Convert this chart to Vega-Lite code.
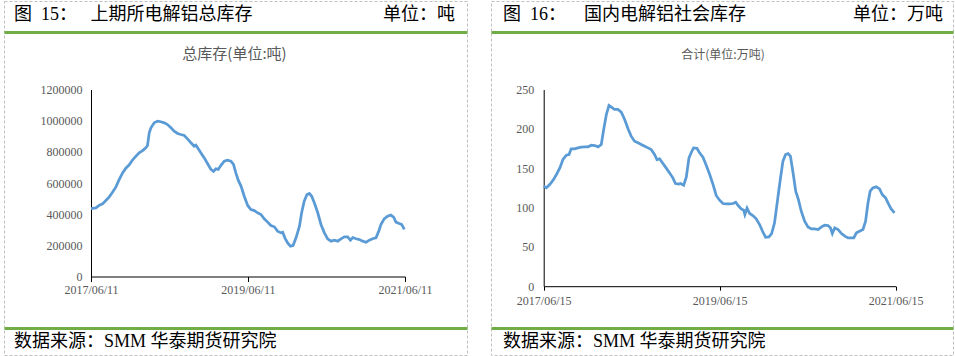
{
  "$schema": "https://vega.github.io/schema/vega-lite/v6.json",
  "padding": {"left": 3, "top": 0, "right": 0, "bottom": 0},
  "background": "white",
  "spacing": 22,
  "config": {"view": {"stroke": null}, "font": "Liberation Serif"},
  "hconcat": [
    {
      "spacing": -2,
      "vconcat": [
        {
          "width": 463, "height": 30.5,
          "view": {"stroke": "#BFBFBF", "strokeDash": [3, 2], "strokeWidth": 1},
          "data": {"values": [
            {"side": "left", "label": "图\u00a0\u00a015：\u00a0\u00a0\u00a0上期所电解铝总库存"},
            {"side": "right", "label": "单位：吨"}
          ]},
          "encoding": {
            "x": {"field": "side", "type": "nominal",
              "scale": {"type": "point", "domain": ["left", "right"], "padding": 0}, "axis": null},
            "text": {"field": "label", "type": "nominal"}
          },
          "layer": [
            {"transform": [{"filter": "datum.side === 'left'"}],
             "mark": {"type": "text", "align": "left", "baseline": "middle", "dx": 10, "dy": -1, "fontSize": 18, "font": "Liberation Serif, Noto Sans CJK SC", "color": "#000000"}},
            {"transform": [{"filter": "datum.side === 'right'"}],
             "mark": {"type": "text", "align": "right", "baseline": "middle", "dx": -12, "dy": -1, "fontSize": 18, "font": "Liberation Serif, Noto Sans CJK SC", "color": "#000000"}}
          ]
        },
        {
          "width": 463, "height": 295,
          "view": {"stroke": "#BFBFBF", "strokeDash": [3, 2], "strokeWidth": 1},
          "title": {"text": "总库存(单位:吨)", "font": "Noto Sans CJK SC", "fontSize": 15, "fontWeight": "normal", "color": "#595959", "offset": -36.5, "baseline": "middle", "dx": -1, "anchor": "middle"},
          "resolve": {"scale": {"x": "independent"}, "axis": {"x": "independent"}},
          "layer": [
            {
              "data": {"values": [
                {"date": "2017-06-11", "v": 436000}, {"date": "2017-07-04", "v": 440000}, {"date": "2017-07-20", "v": 458000},
                {"date": "2017-08-04", "v": 466000}, {"date": "2017-08-19", "v": 488000}, {"date": "2017-09-04", "v": 511000},
                {"date": "2017-09-19", "v": 541000}, {"date": "2017-10-05", "v": 575000}, {"date": "2017-10-20", "v": 622000},
                {"date": "2017-11-05", "v": 665000}, {"date": "2017-11-20", "v": 695000}, {"date": "2017-12-06", "v": 717000},
                {"date": "2017-12-21", "v": 747000}, {"date": "2018-01-06", "v": 772000}, {"date": "2018-01-21", "v": 794000},
                {"date": "2018-02-06", "v": 808000}, {"date": "2018-02-21", "v": 826000}, {"date": "2018-03-01", "v": 841000},
                {"date": "2018-03-09", "v": 922000}, {"date": "2018-03-17", "v": 954000}, {"date": "2018-04-01", "v": 986000},
                {"date": "2018-04-17", "v": 997000}, {"date": "2018-05-02", "v": 993000}, {"date": "2018-05-18", "v": 986000},
                {"date": "2018-06-02", "v": 975000}, {"date": "2018-06-18", "v": 954000}, {"date": "2018-07-03", "v": 933000},
                {"date": "2018-07-19", "v": 918000}, {"date": "2018-08-03", "v": 911000}, {"date": "2018-08-19", "v": 905000},
                {"date": "2018-09-03", "v": 883000}, {"date": "2018-09-19", "v": 858000}, {"date": "2018-10-04", "v": 836000},
                {"date": "2018-10-12", "v": 843000}, {"date": "2018-10-20", "v": 826000}, {"date": "2018-11-04", "v": 794000},
                {"date": "2018-11-20", "v": 761000}, {"date": "2018-12-05", "v": 725000}, {"date": "2018-12-21", "v": 687000},
                {"date": "2019-01-02", "v": 674000}, {"date": "2019-01-13", "v": 691000}, {"date": "2019-01-24", "v": 687000},
                {"date": "2019-02-05", "v": 712000}, {"date": "2019-02-21", "v": 740000}, {"date": "2019-03-08", "v": 747000},
                {"date": "2019-03-24", "v": 740000}, {"date": "2019-04-05", "v": 719000}, {"date": "2019-04-16", "v": 665000},
                {"date": "2019-04-27", "v": 618000}, {"date": "2019-05-10", "v": 580000}, {"date": "2019-05-25", "v": 515000},
                {"date": "2019-06-10", "v": 456000}, {"date": "2019-06-25", "v": 430000}, {"date": "2019-07-11", "v": 423000},
                {"date": "2019-07-26", "v": 409000}, {"date": "2019-08-11", "v": 398000}, {"date": "2019-08-26", "v": 370000},
                {"date": "2019-09-11", "v": 349000}, {"date": "2019-09-26", "v": 327000}, {"date": "2019-10-12", "v": 319000},
                {"date": "2019-10-27", "v": 291000}, {"date": "2019-11-12", "v": 280000}, {"date": "2019-11-20", "v": 284000},
                {"date": "2019-11-30", "v": 248000}, {"date": "2019-12-13", "v": 216000}, {"date": "2019-12-26", "v": 195000},
                {"date": "2020-01-07", "v": 199000}, {"date": "2020-01-21", "v": 248000}, {"date": "2020-02-06", "v": 323000},
                {"date": "2020-02-16", "v": 409000}, {"date": "2020-02-28", "v": 483000}, {"date": "2020-03-12", "v": 526000},
                {"date": "2020-03-23", "v": 533000}, {"date": "2020-04-03", "v": 515000}, {"date": "2020-04-15", "v": 473000},
                {"date": "2020-05-01", "v": 409000}, {"date": "2020-05-16", "v": 334000}, {"date": "2020-06-01", "v": 280000},
                {"date": "2020-06-16", "v": 242000}, {"date": "2020-07-02", "v": 227000}, {"date": "2020-07-17", "v": 233000},
                {"date": "2020-08-02", "v": 227000}, {"date": "2020-08-17", "v": 242000}, {"date": "2020-09-02", "v": 255000},
                {"date": "2020-09-17", "v": 255000}, {"date": "2020-09-30", "v": 233000}, {"date": "2020-10-11", "v": 250000},
                {"date": "2020-10-26", "v": 242000}, {"date": "2020-11-11", "v": 237000}, {"date": "2020-11-26", "v": 227000},
                {"date": "2020-12-12", "v": 220000}, {"date": "2020-12-27", "v": 233000}, {"date": "2021-01-11", "v": 242000},
                {"date": "2021-01-27", "v": 248000}, {"date": "2021-02-09", "v": 291000}, {"date": "2021-02-19", "v": 334000},
                {"date": "2021-03-06", "v": 370000}, {"date": "2021-03-22", "v": 387000}, {"date": "2021-04-06", "v": 394000},
                {"date": "2021-04-19", "v": 381000}, {"date": "2021-04-30", "v": 349000}, {"date": "2021-05-15", "v": 340000},
                {"date": "2021-05-26", "v": 334000}, {"date": "2021-06-08", "v": 302000}
              ]},
              "mark": {"type": "line", "color": "#5B9BD5", "strokeWidth": 2.75},
              "encoding": {
                "x": {"field": "date", "type": "temporal",
                  "scale": {"type": "utc", "nice": false, "range": [87, 401], "domain": [{"year": 2017, "month": 6, "date": 11, "utc": true}, {"year": 2021, "month": 6, "date": 11, "utc": true}]},
                  "axis": {"orient": "bottom", "values": [{"year": 2017, "month": 6, "date": 11, "utc": true}, {"year": 2019, "month": 6, "date": 11, "utc": true}, {"year": 2021, "month": 6, "date": 11, "utc": true}],
                    "format": "%Y/%m/%d", "title": null, "grid": false, "domainColor": "#000000", "tickColor": "#000000", "tickSize": 5,
                    "labelPadding": 3, "labelFont": "Liberation Serif", "labelFontSize": 12, "labelColor": "#595959",
                    "labelFlush": false, "labelOverlap": false, "offset": -50.5, "minExtent": 0}},
                "y": {"field": "v", "type": "quantitative",
                  "scale": {"domain": [0, 1200000], "nice": false, "range": [244.5, 57.5]},
                  "axis": {"values": [0, 200000, 400000, 600000, 800000, 1000000, 1200000], "format": "d", "title": null, "grid": false,
                    "ticks": false, "domainColor": "#000000", "labelPadding": 9, "labelFont": "Liberation Serif", "labelFontSize": 12,
                    "labelColor": "#595959", "offset": -87, "minExtent": 0}}
              }
            },
            {
              "data": {"values": [{"side": "left"}, {"side": "right"}]},
              "mark": {"type": "point", "opacity": 0, "size": 0, "strokeWidth": 0},
              "encoding": {
                "x": {"field": "side", "type": "nominal",
                  "scale": {"type": "point", "domain": ["left", "right"], "padding": 0},
                  "axis": {"orient": "top", "title": null, "labels": false, "ticks": false, "grid": false,
                    "domainColor": "#70AD47", "domainWidth": 3, "minExtent": 0, "maxExtent": 0}}
              }
            }
          ]
        },
        {
          "width": 463, "height": 27,
          "view": {"stroke": "#BFBFBF", "strokeDash": [3, 2], "strokeWidth": 1},
          "data": {"values": [{"side": "left", "label": "数据来源：SMM 华泰期货研究院"}]},
          "mark": {"type": "text", "align": "left", "baseline": "middle", "dx": 10, "dy": 0, "fontSize": 18, "font": "Liberation Serif, Noto Sans CJK SC", "color": "#000000"},
          "encoding": {
            "x": {"field": "side", "type": "nominal",
              "scale": {"type": "point", "domain": ["left", "right"], "padding": 0},
              "axis": {"orient": "top", "title": null, "labels": false, "ticks": false, "grid": false,
                "domainColor": "#70AD47", "domainWidth": 3, "minExtent": 0, "maxExtent": 0}},
            "text": {"field": "label", "type": "nominal"}
          }
        }
      ]
    },
    {
      "spacing": -2,
      "vconcat": [
        {
          "width": 462, "height": 30.5,
          "view": {"stroke": "#BFBFBF", "strokeDash": [3, 2], "strokeWidth": 1},
          "data": {"values": [
            {"side": "left", "label": "图\u00a0\u00a016：\u00a0\u00a0\u00a0\u00a0国内电解铝社会库存"},
            {"side": "right", "label": "单位：万吨"}
          ]},
          "encoding": {
            "x": {"field": "side", "type": "nominal",
              "scale": {"type": "point", "domain": ["left", "right"], "padding": 0}, "axis": null},
            "text": {"field": "label", "type": "nominal"}
          },
          "layer": [
            {"transform": [{"filter": "datum.side === 'left'"}],
             "mark": {"type": "text", "align": "left", "baseline": "middle", "dx": 12, "dy": -1, "fontSize": 18, "font": "Liberation Serif, Noto Sans CJK SC", "color": "#000000"}},
            {"transform": [{"filter": "datum.side === 'right'"}],
             "mark": {"type": "text", "align": "right", "baseline": "middle", "dx": -10, "dy": -1, "fontSize": 18, "font": "Liberation Serif, Noto Sans CJK SC", "color": "#000000"}}
          ]
        },
        {
          "width": 462, "height": 295,
          "view": {"stroke": "#BFBFBF", "strokeDash": [3, 2], "strokeWidth": 1},
          "title": {"text": "合计(单位:万吨)", "font": "Noto Sans CJK SC", "fontSize": 12, "fontWeight": "normal", "color": "#595959", "offset": -34.5, "baseline": "middle", "dx": 1, "anchor": "middle"},
          "resolve": {"scale": {"x": "independent"}, "axis": {"x": "independent"}},
          "layer": [
            {
              "data": {"values": [
                {"date": "2017-06-15", "v": 127.1}, {"date": "2017-06-26", "v": 125}, {"date": "2017-07-10", "v": 129.2},
                {"date": "2017-07-24", "v": 134.7}, {"date": "2017-08-07", "v": 142}, {"date": "2017-08-21", "v": 150.4},
                {"date": "2017-09-03", "v": 161}, {"date": "2017-09-17", "v": 166.5}, {"date": "2017-09-28", "v": 167.4},
                {"date": "2017-10-07", "v": 174.6}, {"date": "2017-10-21", "v": 174.6}, {"date": "2017-11-04", "v": 175.8},
                {"date": "2017-11-18", "v": 176.7}, {"date": "2017-12-02", "v": 177.1}, {"date": "2017-12-16", "v": 177.1},
                {"date": "2017-12-30", "v": 179.2}, {"date": "2018-01-13", "v": 178.8}, {"date": "2018-01-27", "v": 177.1},
                {"date": "2018-02-09", "v": 180.1}, {"date": "2018-02-19", "v": 199.2}, {"date": "2018-03-02", "v": 218.2},
                {"date": "2018-03-13", "v": 229.7}, {"date": "2018-03-22", "v": 228}, {"date": "2018-04-05", "v": 224.6},
                {"date": "2018-04-19", "v": 224.6}, {"date": "2018-05-03", "v": 221.2}, {"date": "2018-05-17", "v": 211.9},
                {"date": "2018-05-31", "v": 200}, {"date": "2018-06-13", "v": 190.7}, {"date": "2018-06-27", "v": 184.3},
                {"date": "2018-07-11", "v": 182.2}, {"date": "2018-07-25", "v": 180.1}, {"date": "2018-08-08", "v": 178},
                {"date": "2018-08-22", "v": 175.8}, {"date": "2018-09-04", "v": 173.7}, {"date": "2018-09-18", "v": 167.4},
                {"date": "2018-09-28", "v": 161}, {"date": "2018-10-09", "v": 161.9}, {"date": "2018-10-23", "v": 155.9},
                {"date": "2018-11-05", "v": 150.4}, {"date": "2018-11-19", "v": 144.1}, {"date": "2018-12-03", "v": 137.7},
                {"date": "2018-12-14", "v": 130.5}, {"date": "2018-12-27", "v": 129.7}, {"date": "2019-01-04", "v": 130.5},
                {"date": "2019-01-17", "v": 128.4}, {"date": "2019-01-28", "v": 139}, {"date": "2019-02-08", "v": 163.1},
                {"date": "2019-02-18", "v": 170.3}, {"date": "2019-02-27", "v": 175.8}, {"date": "2019-03-13", "v": 175.4},
                {"date": "2019-03-24", "v": 169.5}, {"date": "2019-04-07", "v": 164}, {"date": "2019-04-21", "v": 153.4},
                {"date": "2019-05-05", "v": 142}, {"date": "2019-05-19", "v": 129.2}, {"date": "2019-06-01", "v": 115.3},
                {"date": "2019-06-15", "v": 109.3}, {"date": "2019-06-29", "v": 105.1}, {"date": "2019-07-13", "v": 104.7},
                {"date": "2019-07-27", "v": 104.7}, {"date": "2019-08-10", "v": 105.1}, {"date": "2019-08-21", "v": 106.8},
                {"date": "2019-08-31", "v": 102.5}, {"date": "2019-09-13", "v": 98.3}, {"date": "2019-09-23", "v": 96.6},
                {"date": "2019-09-28", "v": 91.1}, {"date": "2019-10-07", "v": 99.2}, {"date": "2019-10-18", "v": 92.4},
                {"date": "2019-10-31", "v": 89.8}, {"date": "2019-11-14", "v": 85.6}, {"date": "2019-11-28", "v": 78.4},
                {"date": "2019-12-12", "v": 68.6}, {"date": "2019-12-23", "v": 62.3}, {"date": "2020-01-06", "v": 62.7},
                {"date": "2020-01-17", "v": 66.9}, {"date": "2020-01-29", "v": 80.5}, {"date": "2020-02-09", "v": 105.9},
                {"date": "2020-02-22", "v": 135.6}, {"date": "2020-03-04", "v": 158.9}, {"date": "2020-03-15", "v": 167.4},
                {"date": "2020-03-25", "v": 168.6}, {"date": "2020-04-04", "v": 165.3}, {"date": "2020-04-15", "v": 144.1},
                {"date": "2020-04-26", "v": 120.8}, {"date": "2020-05-07", "v": 110.2}, {"date": "2020-05-19", "v": 95.3},
                {"date": "2020-06-02", "v": 82.6}, {"date": "2020-06-16", "v": 75.4}, {"date": "2020-06-30", "v": 72.9},
                {"date": "2020-07-14", "v": 72.9}, {"date": "2020-07-28", "v": 72}, {"date": "2020-08-11", "v": 75.4},
                {"date": "2020-08-24", "v": 77.5}, {"date": "2020-09-07", "v": 77.1}, {"date": "2020-09-17", "v": 74.2},
                {"date": "2020-09-25", "v": 66.9}, {"date": "2020-10-05", "v": 74.2}, {"date": "2020-10-19", "v": 72},
                {"date": "2020-11-02", "v": 66.9}, {"date": "2020-11-16", "v": 63.6}, {"date": "2020-11-29", "v": 61.4},
                {"date": "2020-12-13", "v": 61.4}, {"date": "2020-12-23", "v": 61.4}, {"date": "2021-01-03", "v": 67.8},
                {"date": "2021-01-16", "v": 69.9}, {"date": "2021-01-30", "v": 72}, {"date": "2021-02-10", "v": 82.6},
                {"date": "2021-02-20", "v": 105.9}, {"date": "2021-03-01", "v": 120.8}, {"date": "2021-03-12", "v": 125},
                {"date": "2021-03-26", "v": 126.3}, {"date": "2021-04-09", "v": 123.7}, {"date": "2021-04-20", "v": 116.5},
                {"date": "2021-05-04", "v": 112.3}, {"date": "2021-05-14", "v": 105.9}, {"date": "2021-05-27", "v": 98.3},
                {"date": "2021-06-10", "v": 93.2}
              ]},
              "mark": {"type": "line", "color": "#5B9BD5", "strokeWidth": 2.75},
              "encoding": {
                "x": {"field": "date", "type": "temporal",
                  "scale": {"type": "utc", "nice": false, "range": [52.7, 404.7], "domain": [{"year": 2017, "month": 6, "date": 15, "utc": true}, {"year": 2021, "month": 6, "date": 15, "utc": true}]},
                  "axis": {"orient": "bottom", "values": [{"year": 2017, "month": 6, "date": 15, "utc": true}, {"year": 2019, "month": 6, "date": 15, "utc": true}, {"year": 2021, "month": 6, "date": 15, "utc": true}],
                    "format": "%Y/%m/%d", "title": null, "grid": false, "domainColor": "#000000", "tickColor": "#000000", "tickSize": 4,
                    "labelPadding": 5, "labelFont": "Liberation Serif", "labelFontSize": 12, "labelColor": "#595959",
                    "labelFlush": false, "labelOverlap": false, "offset": -40.8, "minExtent": 0}},
                "y": {"field": "v", "type": "quantitative",
                  "scale": {"domain": [0, 250], "nice": false, "range": [254.2, 57.5]},
                  "axis": {"values": [0, 50, 100, 150, 200, 250], "format": "d", "title": null, "grid": false,
                    "ticks": false, "domainColor": "#000000", "labelPadding": 10, "labelFont": "Liberation Serif", "labelFontSize": 12,
                    "labelColor": "#595959", "offset": -52.7, "minExtent": 0}}
              }
            },
            {
              "data": {"values": [{"side": "left"}, {"side": "right"}]},
              "mark": {"type": "point", "opacity": 0, "size": 0, "strokeWidth": 0},
              "encoding": {
                "x": {"field": "side", "type": "nominal",
                  "scale": {"type": "point", "domain": ["left", "right"], "padding": 0},
                  "axis": {"orient": "top", "title": null, "labels": false, "ticks": false, "grid": false,
                    "domainColor": "#70AD47", "domainWidth": 3, "minExtent": 0, "maxExtent": 0}}
              }
            }
          ]
        },
        {
          "width": 462, "height": 27,
          "view": {"stroke": "#BFBFBF", "strokeDash": [3, 2], "strokeWidth": 1},
          "data": {"values": [{"side": "left", "label": "数据来源：SMM 华泰期货研究院"}]},
          "mark": {"type": "text", "align": "left", "baseline": "middle", "dx": 12, "dy": 0, "fontSize": 18, "font": "Liberation Serif, Noto Sans CJK SC", "color": "#000000"},
          "encoding": {
            "x": {"field": "side", "type": "nominal",
              "scale": {"type": "point", "domain": ["left", "right"], "padding": 0},
              "axis": {"orient": "top", "title": null, "labels": false, "ticks": false, "grid": false,
                "domainColor": "#70AD47", "domainWidth": 3, "minExtent": 0, "maxExtent": 0}},
            "text": {"field": "label", "type": "nominal"}
          }
        }
      ]
    }
  ]
}
